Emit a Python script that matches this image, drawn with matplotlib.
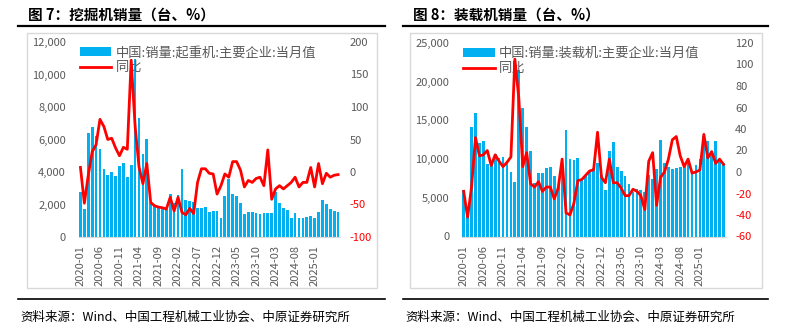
import numpy as np
import matplotlib
matplotlib.use('Agg')
import matplotlib.pyplot as plt
from matplotlib.patches import Rectangle
from matplotlib.lines import Line2D

plt.rcParams['font.family'] = ['Noto Sans CJK SC', 'DejaVu Sans']

# 月份: 2020-01 ~ 2025-07
months = [f'{2020 + k // 12}-{k % 12 + 1:02d}' for k in range(67)]

# 图7 (数据实际为起重机)
crane_sales = [2800, 1700, 6400, 6800, 6200, 5400, 4170, 3800, 4000, 3750, 4375, 4560,
               3700, 4440, 10940, 7350, 5100, 6040, 2100, 1900, 1800, 1750, 1700, 2670,
               2080, 2600, 4170, 2290, 2190, 2125, 1810, 1810, 1875, 1560, 1625, 1600,
               1150, 2500, 3540, 2650, 2540, 2080, 1400, 1560, 1560, 1500, 1400, 1450,
               1500, 1450, 2750, 2080, 1810, 1670, 1150, 1460, 1190, 1150, 1250, 1300,
               1190, 1560, 2290, 2020, 1700, 1600, 1560]
crane_yoy = [7, -48, -5, 31, 42, 81, 70, 50, 52, 37, 25, 38,
             35, 172, 71, 8, -18, 13, -47, -52, -54, -55, -57, -39,
             -60, -39, -62, -66, -56, -64, -16, 5, 5, -2, -3, -34,
             -21, -3, -8, 16, 16, 3, -23, -13, -16, -10, -8, -21,
             34, -42, -26, -21, -26, -21, -16, -8, -23, -16, -16, 7,
             -23, 13, -18, -2, -8, -5, -4]

# 图8 装载机
loader_sales = [6040, 2610, 14170, 15900, 12040, 12380, 9380, 9680, 10670, 10110, 10320, 9800,
                8310, 7100, 21460, 16540, 14170, 11090, 6900, 8190, 8260, 8900, 8960, 7840,
                6500, 9000, 13750, 10020, 9900, 10190, 7300, 7800, 8500, 8800, 9500, 8000,
                6000, 11000, 12250, 9000, 8500, 7800, 6800, 5800, 6200, 6000, 5800, 8000,
                7400, 8700, 12500, 9500, 9000, 8700, 8800, 9000, 9300, 9500, 8500, 9300,
                10000, 13000, 12300, 11000, 12300, 10000, 9500]
loader_yoy = [-18, -42, -14, 32, 15, 16, 20, 6, 16, 10, 5, 9,
              14, 105, 69, 5, 18, -11, -14, -9, -18, -14, -14, -25,
              -15, 12, -38, -40, -29, -8, -7, -3, 1, 2, 37, -5,
              -10, 12, -10, -10, -15, -22, -22, -16, -18, -22, -35, 10,
              18, -31, -5, 0, 12, 30, 33, 15, 5, 12, -1, 0,
              2, 35, 13, 19, 8, 12, 7]

W, H = 787, 331
fig = plt.figure(figsize=(W / 100, H / 100), dpi=100)

def fx(px):
    return px / W

def fy(py):
    return 1 - py / H

GRAY = '#595959'
BLUE = '#00B0F0'
RED = '#FF0000'


def panel(x_title, x_line0, x_line1, box, rect, title, leg_label, bars, yoy,
          lmax, lstep, rlim, rstep):
    # 标题和黑线
    fig.text(fx(x_title), fy(15), title, fontsize=10.5, fontweight='bold',
             va='center', ha='left')
    fig.add_artist(Line2D([fx(x_line0), fx(x_line1)], [fy(26), fy(26)],
                          transform=fig.transFigure, color='black', lw=1.6))
    fig.add_artist(Line2D([fx(x_line0), fx(x_line1)], [fy(299), fy(299)],
                          transform=fig.transFigure, color='black', lw=1.2))
    fig.add_artist(Rectangle((fx(box[0]), fy(box[3])), fx(box[2] - box[0]),
                             (box[3] - box[1]) / H, transform=fig.transFigure,
                             fill=False, edgecolor='#d9d9d9', lw=1))
    fig.text(fx(x_line0 + 2), fy(317), '资料来源：Wind、中国工程机械工业协会、中原证券研究所',
             fontsize=9, va='center', ha='left')

    ax = fig.add_axes([fx(rect[0]), fy(rect[3]), fx(rect[2] - rect[0]),
                       (rect[3] - rect[1]) / H])
    x = np.arange(len(bars))
    b = ax.bar(x, bars, width=0.7, color=BLUE, label=leg_label)
    ax.set_xlim(-0.5, len(bars) - 0.5)
    ax.set_ylim(0, lmax)
    lt = np.arange(0, lmax + 1, lstep)
    ax.set_yticks(lt)
    ax.set_yticklabels([f'{v:,}' for v in lt], fontsize=8, color=GRAY)
    ax.set_xticks(x[::5][:13])
    ax.set_xticklabels([months[i] for i in x[::5][:13]], rotation=90,
                       fontsize=8, color=GRAY)
    ax.tick_params(length=0, pad=6)
    ax.tick_params(axis='y', pad=9)
    for s in ['top', 'left', 'right']:
        ax.spines[s].set_visible(False)
    ax.spines['bottom'].set_color('#d9d9d9')

    ax2 = ax.twinx()
    l, = ax2.plot(x, yoy, color=RED, lw=2.0, label='同比')
    ax2.set_ylim(*rlim)
    rt = np.arange(rlim[0], rlim[1] + 1, rstep)
    ax2.set_yticks(rt)
    ax2.set_yticklabels([str(v) for v in rt], fontsize=8)
    for t, v in zip(ax2.get_yticklabels(), rt):
        t.set_color(RED if v < 0 else GRAY)
    ax2.tick_params(length=0, pad=7)
    for s in ax2.spines.values():
        s.set_visible(False)

    ax.legend([b, l], [leg_label, '同比'], loc='upper left', frameon=False,
              fontsize=9.5, handlelength=2.4, handleheight=0.7,
              borderaxespad=0, borderpad=0.1, labelspacing=0.15,
              handletextpad=0.3, labelcolor=GRAY,
              bbox_to_anchor=(0.0, 0.985))


panel(28, 18, 385, (27, 33, 377, 288), (78.5, 42, 340, 237),
      '图 7：挖掘机销量（台、%）', '中国:销量:起重机:主要企业:当月值',
      crane_sales, crane_yoy, 12000, 2000, (-100, 200), 50)
panel(413, 403, 768, (410, 33, 762, 288), (461.7, 43, 725.5, 236.5),
      '图 8：装载机销量（台、%）', '中国:销量:装载机:主要企业:当月值',
      loader_sales, loader_yoy, 25000, 5000, (-60, 120), 20)

fig.savefig('out.png', dpi=100)
